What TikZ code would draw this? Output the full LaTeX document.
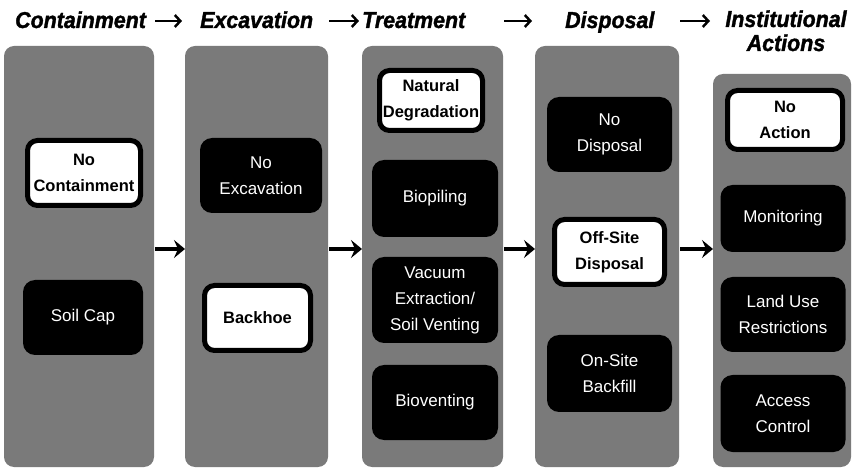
\documentclass[tikz,border=0pt]{standalone}
\usepackage{fontspec}
\setmainfont{Liberation Sans}
\newfontfamily\titlefont[FakeStretch=0.93,FakeBold=1.5]{Liberation Sans}
\usetikzlibrary{arrows.meta}
\begin{document}
\begin{tikzpicture}[x=1pt,y=-1pt,
  panel/.style={fill=black!52, rounded corners=10pt, inner sep=0pt, outer sep=0pt},
  darkbox/.style={fill=black, text=white, rounded corners=12pt, inner sep=0pt,
    align=center, font=\fontsize{17}{26}\selectfont},
  lightbox/.style={draw=black, line width=5pt, fill=white, text=black,
    rounded corners=10pt, inner sep=0pt, align=center,
    font=\bfseries\fontsize{16.5}{26}\selectfont},
  heading/.style={font=\titlefont\bfseries\itshape\fontsize{23}{22}\selectfont,
    inner sep=0pt},
  headarrow/.style={line width=2.5pt, -{Straight Barb[length=5.5pt,width=12pt]}},
  flowarrow/.style={line width=4pt, -{Stealth[length=11pt,width=18pt,inset=4pt]}}
]
\useasboundingbox (0,0) rectangle (852,470);

% stage headings
\node[heading, anchor=base west] (t1) at (15,28) {Containment};
\node[heading, anchor=base west] (t2) at (200,28) {Excavation};
\node[heading, anchor=base west] (t3) at (362,28) {Treatment};
\node[heading, anchor=base west] (t4) at (565,28) {Disposal};
\node[heading, anchor=base] (t5) at (786,27) {Institutional};
\node[heading, anchor=base] (t5b) at (786,51) {Actions};

% stage panels
\node[panel, minimum width=150pt, minimum height=421pt] (p1) at (79,256.5) {};
\node[panel, minimum width=143pt, minimum height=421pt] (p2) at (256.5,256.5) {};
\node[panel, minimum width=141pt, minimum height=421pt] (p3) at (432.5,256.5) {};
\node[panel, minimum width=144pt, minimum height=421pt] (p4) at (607,256.5) {};
\node[panel, minimum width=138pt, minimum height=393pt] (p5) at (782,270.5) {};

% options of each stage
\node[lightbox, minimum width=113pt, minimum height=65pt] (nocont) at (84,173) {No\\Containment};
\node[darkbox, minimum width=120pt, minimum height=75pt] (soilcap) at (83,317.5) {Soil Cap};

\node[darkbox, minimum width=122pt, minimum height=75pt] (noexc) at (261,175.5) {No\\Excavation};
\node[lightbox, minimum width=106pt, minimum height=65pt] (backhoe) at (257.5,318) {Backhoe};

\node[lightbox, minimum width=103pt, minimum height=60pt] (natdeg) at (431,100.5) {Natural\\Degradation};
\node[darkbox, minimum width=126pt, minimum height=77pt] (biopile) at (435,198.5) {Biopiling};
\node[darkbox, minimum width=126pt, minimum height=86pt] (vacuum) at (435,300) {Vacuum\\Extraction/\\Soil Venting};
\node[darkbox, minimum width=126pt, minimum height=75pt] (biovent) at (435,402.5) {Bioventing};

\node[darkbox, minimum width=125pt, minimum height=75pt] (nodisp) at (609.5,134.5) {No\\Disposal};
\node[lightbox, minimum width=110pt, minimum height=65pt] (offsite) at (609.5,252) {Off-Site\\Disposal};
\node[darkbox, minimum width=125pt, minimum height=77pt] (onsite) at (609.5,373.5) {On-Site\\Backfill};

\node[lightbox, minimum width=115pt, minimum height=59pt] (noaction) at (785,120) {No\\Action};
\node[darkbox, minimum width=125pt, minimum height=67pt] (monitor) at (783,218.5) {Monitoring};
\node[darkbox, minimum width=125pt, minimum height=75pt] (landuse) at (783,314.5) {Land Use\\Restrictions};
\node[darkbox, minimum width=125pt, minimum height=77pt] (access) at (783,413.5) {Access\\Control};

% heading arrows and flow arrows between stages
\coordinate (hline) at (0,21);
\coordinate (fline) at (0,249);
\foreach \a/\b in {p1/p2,p2/p3,p3/p4,p4/p5}{
  \draw[headarrow] ([xshift=1pt]\a.east |- hline) -- ([xshift=-3pt]\b.west |- hline);
  \draw[flowarrow] ([xshift=1pt]\a.east |- fline) -- (\b.west |- fline);
}
\end{tikzpicture}
\end{document}
